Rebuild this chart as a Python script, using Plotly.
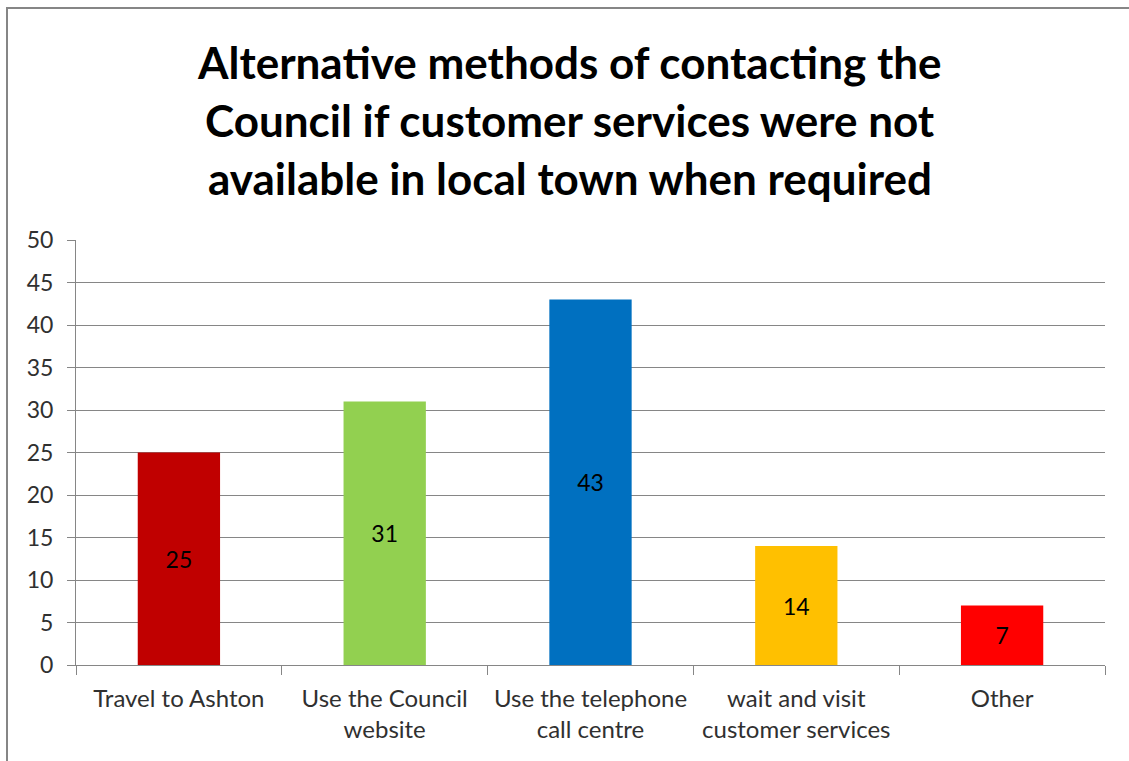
import plotly.graph_objects as go

# Survey responses: alternative ways of contacting the Council
categories = [
    "Travel to Ashton",
    "Use the Council<br>website",
    "Use the telephone<br>call centre",
    "wait and visit<br>customer services",
    "Other",
]
responses = [25, 31, 43, 14, 7]
bar_colors = ["#C00000", "#92D050", "#0070C0", "#FFC000", "#FF0000"]
y_ticks = [0, 5, 10, 15, 20, 25, 30, 35, 40, 45, 50]

title_lines = [
    "Alternative methods of contacting the",
    "Council if customer services were not",
    "available in local town when required",
]

FONT = "Lato, Carlito, Calibri, sans-serif"
GRID = "#868686"
PLOT_H = 425  # plot-area height in px, used to place title lines and frame

fig = go.Figure(
    go.Bar(
        x=categories,
        y=responses,
        marker=dict(color=bar_colors, line=dict(width=0)),
        width=0.4,
        text=[str(v) for v in responses],
        textposition="inside",
        insidetextanchor="middle",
        textfont=dict(family=FONT, size=23, color="#000000"),
        hoverinfo="x+y",
    )
)

fig.update_layout(
    width=1129,
    height=761,
    margin=dict(l=76, r=24, t=240, b=96),
    paper_bgcolor="#FFFFFF",
    plot_bgcolor="#FFFFFF",
    showlegend=False,
    font=dict(family=FONT, size=22, color="#303030"),
    uniformtext=dict(mode=False),
)

fig.update_xaxes(
    showline=True,
    linecolor=GRID,
    linewidth=1,
    ticks="outside",
    tickson="boundaries",
    ticklen=9,
    tickcolor=GRID,
    showgrid=False,
    ticklabelstandoff=12,
    tickfont=dict(family=FONT, size=24, color="#303030"),
)

fig.update_yaxes(
    range=[0, 50],
    tickvals=y_ticks,
    showline=True,
    linecolor=GRID,
    linewidth=1,
    ticks="outside",
    ticklen=8,
    tickcolor=GRID,
    showgrid=True,
    gridcolor=GRID,
    gridwidth=1,
    zeroline=False,
    ticklabelstandoff=9,
    tickfont=dict(family=FONT, size=23, color="#303030"),
)

# Chart title, one annotation per line
for i, line in enumerate(title_lines):
    fig.add_annotation(
        text="<b>" + line + "</b>",
        xref="paper",
        yref="paper",
        x=0.48,
        y=1 + (240 - (62 + 58 * i)) / PLOT_H,
        xanchor="center",
        yanchor="middle",
        showarrow=False,
        font=dict(family=FONT, size=44, color="#000000"),
    )

# Outer chart frame
fig.add_shape(
    type="rect",
    xref="paper",
    yref="paper",
    x0=-69 / 1029,
    x1=1 + 40 / 1029,
    y0=-120 / PLOT_H,
    y1=1 + 232 / PLOT_H,
    line=dict(color="#868686", width=2),
    fillcolor="rgba(0,0,0,0)",
    layer="below",
)

fig.write_html("out.html")
